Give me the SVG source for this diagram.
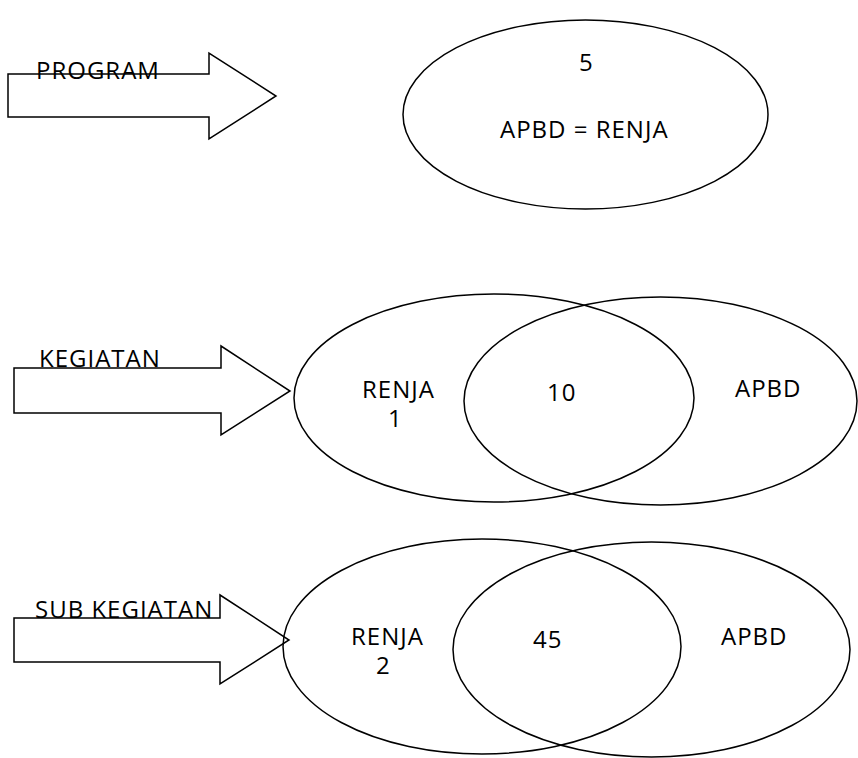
<svg xmlns="http://www.w3.org/2000/svg" width="858" height="758" viewBox="0 0 858 758">
  <style>
    .shape { fill: #ffffff; stroke: #000000; stroke-width: 1.5; }
    .ring { fill: none; stroke: #000000; stroke-width: 1.5; }
    .label { font-family: "Open Sans", "Noto Sans", "Liberation Sans", sans-serif; font-size: 24px; letter-spacing: 1px; fill: #000000; }
  </style>
  <rect width="858" height="758" fill="#ffffff"/>

  <!-- block arrows, drawn first so the labels sit on top -->
  <g id="connectors">
    <polygon id="arrow-program" class="shape" points="8,74 209,74 209,53 276,96 209,139 209,117 8,117"/>
    <polygon id="arrow-kegiatan" class="shape" points="14,368 221,368 221,346 290,391 221,435 221,413 14,413"/>
    <polygon id="arrow-sub" class="shape" points="14,618 220,618 220,595 289,640 220,684 220,662 14,662"/>
  </g>

  <g id="label-program"><text class="label" x="36" y="79">PROGRAM</text></g>
  <g id="label-kegiatan"><text class="label" x="39" y="367">KEGIATAN</text></g>
  <g id="label-sub-kegiatan"><text class="label" x="35" y="618">SUB KEGIATAN</text></g>

  <!-- program level: single ellipse -->
  <g id="node-program">
    <ellipse class="ring" cx="585.5" cy="114.5" rx="182.5" ry="94.5"/>
    <text class="label" x="579" y="71">5</text>
    <text class="label" x="500" y="138">APBD = RENJA</text>
  </g>

  <!-- kegiatan level: overlapping sets -->
  <g id="node-kegiatan-renja">
    <ellipse class="ring" cx="494" cy="398" rx="200" ry="104"/>
    <text class="label" x="362" y="398">RENJA</text>
    <text class="label" x="388" y="427">1</text>
  </g>
  <g id="node-kegiatan-apbd">
    <ellipse class="ring" cx="660.5" cy="401" rx="196.5" ry="104"/>
    <text class="label" x="735" y="397">APBD</text>
  </g>
  <g id="node-kegiatan-overlap">
    <text class="label" x="547" y="401">10</text>
  </g>

  <!-- sub kegiatan level: overlapping sets -->
  <g id="node-sub-renja">
    <ellipse class="ring" cx="482" cy="646.5" rx="199" ry="107.5"/>
    <text class="label" x="351" y="645">RENJA</text>
    <text class="label" x="376" y="674">2</text>
  </g>
  <g id="node-sub-apbd">
    <ellipse class="ring" cx="651.5" cy="649.5" rx="198.5" ry="107.5"/>
    <text class="label" x="721" y="645">APBD</text>
  </g>
  <g id="node-sub-overlap">
    <text class="label" x="533" y="648">45</text>
  </g>
</svg>
